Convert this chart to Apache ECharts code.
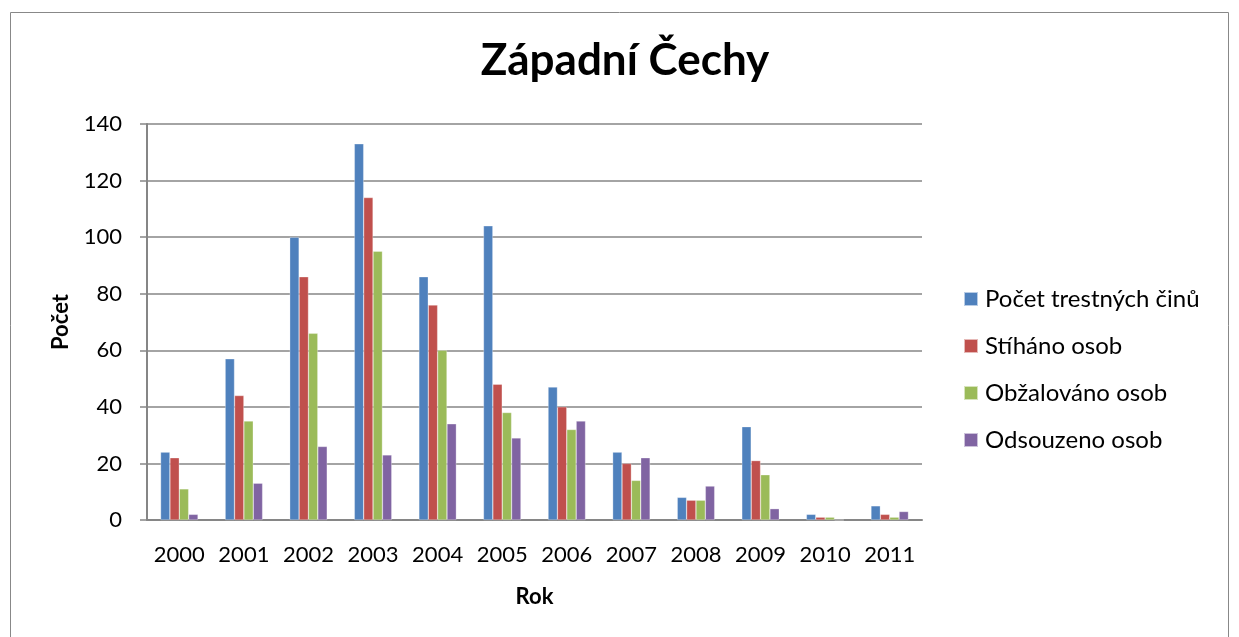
<!DOCTYPE html>
<html><head><meta charset="utf-8">
<script src="https://cdn.jsdelivr.net/npm/echarts@6/dist/echarts.min.js"></script>
<style>html,body{margin:0;padding:0;background:#fff}#c{width:1239px;height:637px}</style>
</head><body><div id="c"></div>
<script>
const categories = ['2000','2001','2002','2003','2004','2005','2006','2007','2008','2009','2010','2011'];
const pocetTC = [24,57,100,133,86,104,47,24,8,33,2,5];
const stihano = [22,44,86,114,76,48,40,20,7,21,1,2];
const obzalovano = [11,35,66,95,60,38,32,14,7,16,1,1];
const odsouzeno = [2,13,26,23,34,29,35,22,12,4,0,3];
const seriesNames = ['Počet trestných činů','Stíháno osob','Obžalováno osob','Odsouzeno osob'];
const colors = ['#4F81BD','#C0504D','#9BBB59','#8064A2'];
const font = 'Lato, "Open Sans", sans-serif';
const chart = echarts.init(document.getElementById('c'));
const mk = (name, data) => ({name, type:'bar', data, barGap:'0%', barCategoryGap:'42%',
  itemStyle:{borderColor:'rgba(255,255,255,0.6)', borderWidth:0.5}});
chart.setOption({
  animation:false,
  color: colors,
  graphic:[{type:'rect', shape:{x:10.5,y:12.5,width:1218,height:640}, style:{fill:'none', stroke:'#888', lineWidth:1}}],
  title:{text:'Západní Čechy', left:620, textAlign:'center', top:34,
    textStyle:{fontFamily:font, fontSize:44, fontWeight:'bold', color:'#000'}},
  grid:{left:147, right:317, top:124, bottom:117, containLabel:false},
  legend:{orient:'vertical', left:958, top:282, itemGap:23, itemWidth:14, itemHeight:14, icon:'rect',
    textStyle:{fontFamily:font, fontSize:24, color:'#000', padding:[0,0,0,2]}, data:seriesNames},
  xAxis:{type:'category', data:categories, name:'Rok', nameLocation:'middle', nameGap:66,
    nameTextStyle:{fontFamily:font, fontSize:22, fontWeight:'bold', color:'#000'},
    axisLine:{lineStyle:{color:'#868686', width:2}}, axisTick:{show:false},
    axisLabel:{fontFamily:font, fontSize:22, color:'#000', margin:24, interval:0, hideOverlap:false}},
  yAxis:{type:'value', min:0, max:140, interval:20, name:'Počet', nameLocation:'middle', nameGap:75, nameRotate:90,
    nameTextStyle:{fontFamily:font, fontSize:22, fontWeight:'bold', color:'#000'},
    axisLine:{show:true, lineStyle:{color:'#868686', width:2}},
    axisTick:{show:true, length:7, lineStyle:{color:'#868686', width:1.5}},
    axisLabel:{fontFamily:font, fontSize:22, color:'#000', margin:25},
    splitLine:{lineStyle:{color:'#868686', width:1.5}}},
  series:[mk(seriesNames[0], pocetTC), mk(seriesNames[1], stihano), mk(seriesNames[2], obzalovano), mk(seriesNames[3], odsouzeno)]
});
</script></body></html>
